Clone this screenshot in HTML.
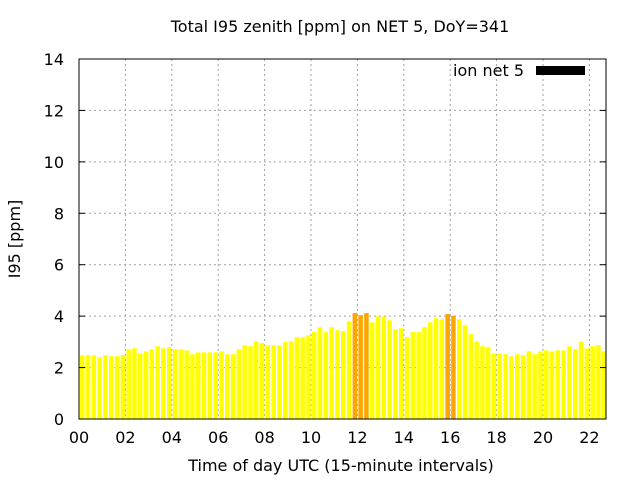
<!DOCTYPE html>
<html><head><meta charset="utf-8"><style>
html,body{margin:0;padding:0;background:#fff;}
svg text{font-family:"DejaVu Sans","Liberation Sans",sans-serif;font-size:16px;fill:#000;}
</style></head><body>
<svg id="chart" width="640" height="480" xmlns="http://www.w3.org/2000/svg">
<text x="340" y="32" text-anchor="middle">Total I95 zenith [ppm] on NET 5, DoY=341</text>
<g id="grid"></g><g id="bars"></g><g id="axes"></g>
<text transform="translate(20,239) rotate(-90)" text-anchor="middle">I95 [ppm]</text>
<text x="341" y="471" text-anchor="middle">Time of day UTC (15-minute intervals)</text>
<g>
<text x="524" y="76" text-anchor="end">ion net 5</text>
<rect x="536" y="66" width="49" height="9" fill="#000"></rect>
</g>
</svg>
<script>
const values=[2.48,2.48,2.48,2.40,2.48,2.44,2.44,2.48,2.71,2.75,2.55,2.63,2.71,2.83,2.75,2.79,2.71,2.71,2.67,2.52,2.59,2.59,2.59,2.59,2.63,2.52,2.52,2.71,2.87,2.83,3.02,2.95,2.87,2.87,2.87,2.99,3.02,3.18,3.18,3.26,3.38,3.57,3.38,3.57,3.46,3.42,3.80,4.12,4.04,4.12,3.76,3.99,3.99,3.84,3.49,3.53,3.18,3.38,3.38,3.57,3.76,3.92,3.88,4.08,4.02,3.88,3.65,3.30,3.02,2.83,2.79,2.55,2.55,2.52,2.44,2.52,2.48,2.63,2.52,2.63,2.67,2.63,2.67,2.67,2.83,2.71,3.02,2.75,2.83,2.87,2.63,2.48];
const yTicks=[0,2,4,6,8,10,12,14];
const xTickLabels=["00","02","04","06","08","10","12","14","16","18","20","22"];
const xTickHours=[0,2,4,6,8,10,12,14,16,18,20,22];
const threshold=4.0;
const L=79,R=606,T=59,B=419,NS="http://www.w3.org/2000/svg";
const slot=5.8;
const y=v=>B-(v/14)*(B-T);
const xh=h=>L+h*4*slot;
function mk(tag,attrs,parent){const e=document.createElementNS(NS,tag);for(const k in attrs)e.setAttribute(k,attrs[k]);document.getElementById(parent).appendChild(e);return e;}
yTicks.forEach(t=>{
 const yy=y(t);
 if(t>0&&t<14){const g=mk('line',{x1:L,x2:R,y1:yy,y2:yy,stroke:'#a0a0a0','stroke-dasharray':'2,3'},'grid');
 
 }
 const tk=mk('line',{x1:L,x2:L+6,y1:yy,y2:yy,stroke:'#000'},'axes');
 
 
 const tk2=mk('line',{x1:R-6,x2:R,y1:yy,y2:yy,stroke:'#000'},'axes');
 
 
 const lb=mk('text',{x:L-15,y:yy+6,'text-anchor':'end'},'axes');lb.textContent=t;
 
 
});
xTickHours.forEach((h,i)=>{
 const xx=xh(h);
 if(h>0){const g=mk('line',{x1:xx,x2:xx,y1:T,y2:B,stroke:'#a0a0a0','stroke-dasharray':'2,3'},'grid');
 
 }
 const lb=mk('text',{x:xx,y:443,'text-anchor':'middle'},'axes');lb.textContent=xTickLabels[i];
 
 
});
values.forEach((v,i)=>{
 const x0=L+1+i*slot;
 const w=Math.min(4.5,R-x0);
 if(w<=0)return;
 const r=mk('rect',{x:x0,y:y(v),width:w,height:B-y(v),fill:v>threshold?'#ffa500':'#ffff00'},'bars');
 
 
});
const fr=mk('rect',{x:L,y:T,width:R-L,height:B-T,fill:'none',stroke:'#000','stroke-width':1},'axes');


</script>
</body></html>
